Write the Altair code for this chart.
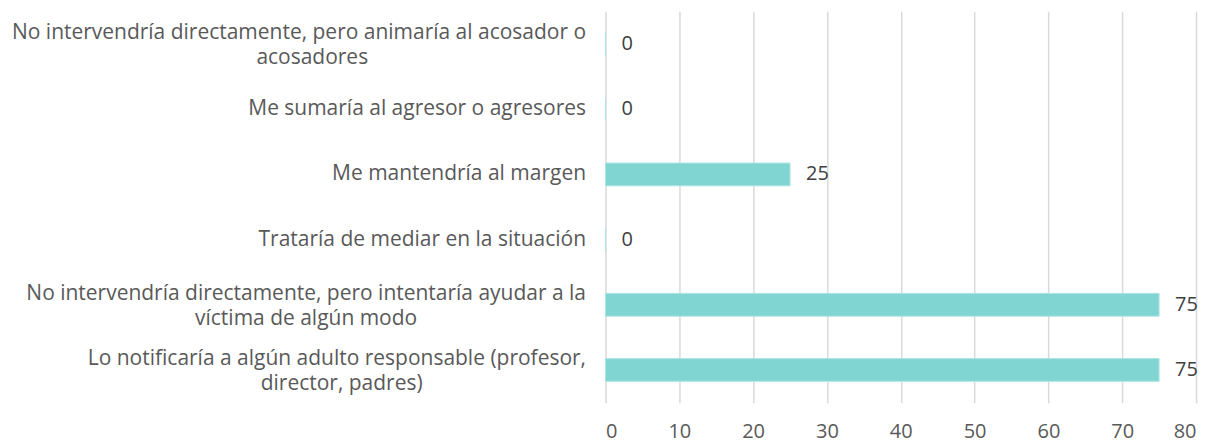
import altair as alt
import pandas as pd

categories = [
    "No intervendría directamente, pero animaría al acosador o|acosadores",
    "Me sumaría al agresor o agresores",
    "Me mantendría al margen",
    "Trataría de mediar en la situación",
    "No intervendría directamente, pero intentaría ayudar a la|víctima de algún modo",
    "Lo notificaría a algún adulto responsable (profesor,|director, padres)",
]
values = [0, 0, 25, 0, 75, 75]
x_ticks = [0, 10, 20, 30, 40, 50, 60, 70, 80]

df = pd.DataFrame({"cat": categories, "val": values})

FONT = "Open Sans"
TXT = "#595959"
NB = "\u00a0"
ZW = "\u200b"

# second line centred under the first: pad it on the right with no-break spaces
# (closed with a zero-width space so that the padding is not trimmed)
label_expr = (
    "indexof(datum.value, '|') < 0 ? datum.value : "
    "[split(datum.value, '|')[0], split(datum.value, '|')[1] + "
    "pad('', round(0.85 * (length(split(datum.value, '|')[0]) - length(split(datum.value, '|')[1]))), '"
    + NB + "') + '" + ZW + "']"
)

y_enc = alt.Y(
    "cat:N",
    sort=categories,
    title=None,
    scale=alt.Scale(paddingInner=0.65, paddingOuter=0.33),
    axis=alt.Axis(
        labelExpr=label_expr,
        labelFontSize=21,
        labelFont=FONT,
        labelColor=TXT,
        labelPadding=20,
        labelLimit=900,
        ticks=False,
        domain=False,
        labelLineHeight=25,
        labelOffset=alt.ConditionalAxisNumber(
            condition={"test": "indexof(datum.value, '|') >= 0", "value": -11},
            value=0,
        ),
    ),
)

x_enc = alt.X(
    "val:Q",
    title=None,
    scale=alt.Scale(domain=[0, 80], nice=False),
    axis=alt.Axis(
        values=x_ticks,
        labelFontSize=20,
        labelFont=FONT,
        labelColor=TXT,
        labelPadding=19,
        ticks=False,
        domain=False,
        grid=True,
        gridColor="#d9d9d9",
        gridWidth=1.5,
    ),
)

bars = alt.Chart(df).mark_bar(color="#80d5d3", stroke="#aee6e3", strokeWidth=1).encode(x=x_enc, y=y_enc)
labels = alt.Chart(df).mark_text(
    align="left", baseline="middle", dx=16, fontSize=20, font=FONT, color="#404040"
).encode(x="val:Q", y=alt.Y("cat:N", sort=categories), text="val:Q")

chart = (
    alt.layer(bars, labels)
    .properties(
        width=591,
        height=392,
        padding={"left": 598, "top": 3, "right": 10, "bottom": 40},
        autosize=alt.AutoSizeParams(type="none"),
        background="white",
    )
    .configure_view(stroke=None)
)

chart.save("out.html", embed_options={"renderer": "svg", "actions": False})
